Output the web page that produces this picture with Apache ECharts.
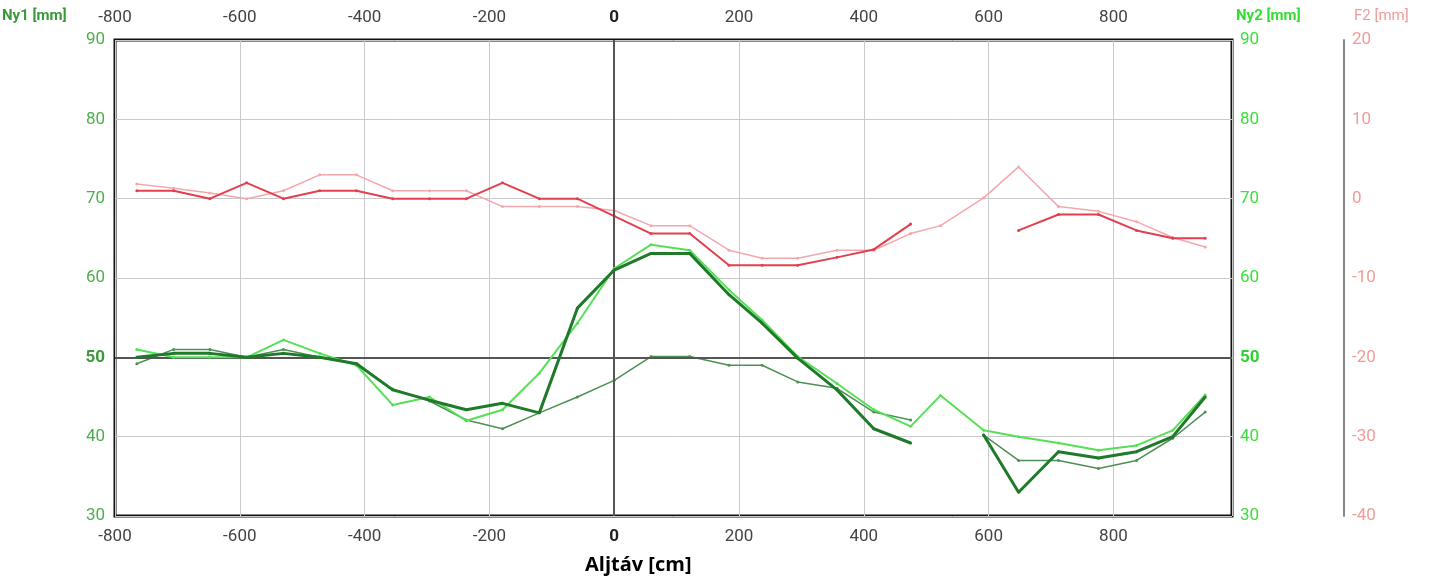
<!DOCTYPE html>
<html><head><meta charset="utf-8">
<script src="https://cdn.jsdelivr.net/npm/echarts@6/dist/echarts.min.js"></script>
<style>html,body{margin:0;padding:0;background:#fff}#c{width:1435px;height:584px}</style>
</head><body><div id="c"></div>
<script>
// distances [cm]
const xPos = [-765,-706,-648,-589,-530,-472,-413,-355,-296,-237,-179,-120,-59,0,59,121,184,237,294,357,416,475,523,592,648,712,776,837,895,947];
// Ny1 [mm]
const ny1Thick = [50,50.5,50.5,50,50.5,50,49.2,45.9,44.6,43.4,44.2,43,56.2,61,63.1,63.1,57.9,54.3,49.9,45.9,41,39.2,null,40.2,33,38.1,37.3,38.1,40,45];
const ny1Thin  = [49.2,51,51,50,51,50,49.2,46,44.5,42.1,41,43,45,47.1,50.1,50.1,49,49,46.9,46.1,43.1,42.1,null,40.2,37,37,36,37,39.8,43.1];
// Ny2 [mm]
const ny2 = [51,50,50,50,52.2,50.5,49,44,45,42,43.4,48,54.3,61.2,64.2,63.5,58.5,54.7,50.1,46.7,43.4,41.3,45.2,40.8,40,39.2,38.3,38.9,40.8,45.25];
// F2 [mm]
const f2Dark  = [1,1,0,2,0,1,1,0,0,0,2,0,0,-2.2,-4.4,-4.4,-8.4,-8.4,-8.4,-7.4,-6.4,-3.2,null,null,-4,-2,-2,-4,-5,-5];
const f2Light = [1.85,1.3,0.7,0,1,3,3,1,1,1,-1,-1,-1,-1.5,-3.4,-3.4,-6.5,-7.5,-7.5,-6.5,-6.5,-4.4,-3.4,0.1,4,-1,-1.6,-2.9,-4.9,-6.1];
const xTicks = [-800,-600,-400,-200,0,200,400,600,800];

const pts = arr => xPos.map((x,i)=>[x,arr[i]]);
const chart = echarts.init(document.getElementById('c'));
const tickFont = {fontFamily:'Roboto, "Liberation Sans", sans-serif', fontSize:17};
const xLab = {
  color:'#444', ...tickFont, showMaxLabel:false,
  formatter: v => xTicks.includes(v) ? (v===0 ? '{b|0}' : String(v)) : '',
  rich:{b:{fontWeight:'bold', color:'#222', fontSize:17}}
};
function lineSeries(name, data, yIdx, color, width, z){
  return {name, type:'line', data:pts(data), yAxisIndex:yIdx, connectNulls:false,
    symbol:'circle', symbolSize:3, showSymbol:true,
    lineStyle:{color, width}, itemStyle:{color}, z, animation:false};
}
chart.setOption({
  animation:false,
  grid:{left:115, right:203, top:40, bottom:68, show:true, borderColor:'#111', borderWidth:3, backgroundColor:'transparent'},
  xAxis:[
    {type:'value', position:'bottom', min:-800, max:990, interval:200,
     axisLine:{show:false}, axisTick:{show:false},
     splitLine:{show:true, lineStyle:{color:'#cacaca', width:1}},
     axisLabel:{...xLab, margin:12}},
    {type:'value', position:'top', min:-800, max:990, interval:200,
     axisLine:{show:false}, axisTick:{show:false}, splitLine:{show:false},
     axisLabel:{...xLab, margin:14}}
  ],
  yAxis:[
    {type:'value', position:'left', min:30, max:90, interval:10,
     axisLine:{show:false}, axisTick:{show:false},
     splitLine:{show:true, lineStyle:{color:'#cacaca', width:1}},
     axisLabel:{color:'#4cae4c', ...tickFont, margin:10,
       formatter:v=> v===50?'{b|50}':String(v), rich:{b:{fontWeight:'bold',color:'#3a9a3a',fontSize:17}}}},
    {type:'value', position:'right', min:30, max:90, interval:10,
     axisLine:{show:false}, axisTick:{show:false}, splitLine:{show:false},
     axisLabel:{color:'#3be03b', ...tickFont, margin:8,
       formatter:v=> v===50?'{b|50}':String(v), rich:{b:{fontWeight:'bold',color:'#2fd02f',fontSize:17}}}},
    {type:'value', position:'right', offset:112, min:-40, max:20, interval:10,
     axisLine:{show:true, lineStyle:{color:'#888', width:2}}, axisTick:{show:false}, splitLine:{show:false},
     axisLabel:{color:'#f29a9a', ...tickFont, margin:8}}
  ],
  graphic:[
    {type:'text', left:2, top:9, style:{text:'Ny1 [mm]', fill:'#3a9a3a', font:'bold 15px Roboto, "Liberation Sans", sans-serif'}},
    {type:'text', left:1236, top:9, style:{text:'Ny2 [mm]', fill:'#33dd33', font:'bold 15px Roboto, "Liberation Sans", sans-serif'}},
    {type:'text', left:1354, top:9, style:{text:'F2 [mm]', fill:'#f29a9a', font:'15px Roboto, "Liberation Sans", sans-serif'}},
    {type:'text', left:585, top:555, style:{text:'Aljtáv [cm]', fill:'#000', font:'bold 20px "Open Sans", "Liberation Sans", sans-serif'}}
  ],
  series:[
    lineSeries('F2 light', f2Light, 2, '#f4a8ac', 1.5, 2),
    lineSeries('F2', f2Dark, 2, '#e2404f', 2, 3),
    Object.assign(lineSeries('Ny1 thin', ny1Thin, 0, '#4e8f55', 1.5, 4), {
      markLine:{silent:true, symbol:'none', label:{show:false}, animation:false,
        lineStyle:{color:'#555', width:2, type:'solid'},
        data:[{xAxis:0},{yAxis:50}]}}),
    lineSeries('Ny2', ny2, 1, '#55e055', 2, 5),
    lineSeries('Ny1', ny1Thick, 0, '#1f7a2a', 3, 6)
  ]
});
</script></body></html>
